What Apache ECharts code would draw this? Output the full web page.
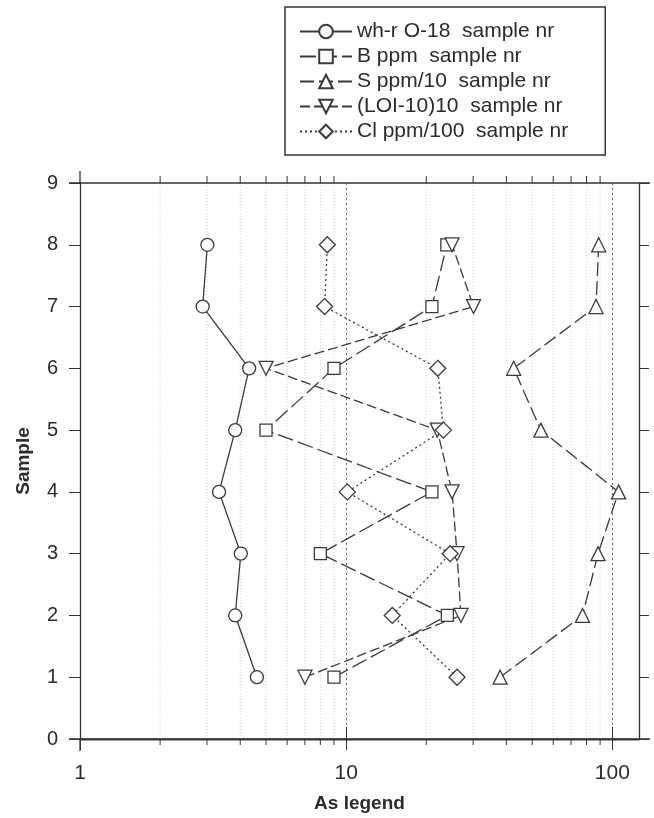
<!DOCTYPE html>
<html>
<head>
<meta charset="utf-8">
<script src="https://cdn.jsdelivr.net/npm/echarts@6/dist/echarts.min.js"></script>
<style>
  html, body { margin: 0; padding: 0; background: #fff; }
  #chart { width: 654px; height: 818px; }
</style>
</head>
<body>
<div id="chart"></div>
<script>
// sample numbers (y) and the five measured series (x, log scale)
var samples = [1, 2, 3, 4, 5, 6, 7, 8];
var whrO18 = [4.62, 3.83, 4.02, 3.33, 3.83, 4.32, 2.89, 3.01];
var bPpm = [9.0, 24.0, 8.0, 21.0, 5.0, 9.0, 21.0, 23.9];
var sPpm10 = [37.9, 77.3, 88.4, 105.6, 53.9, 42.6, 86.9, 88.9];
var loi10 = [7.0, 27.0, 26.1, 25.0, 22.0, 5.0, 30.1, 25.0];
var clPpm100 = [26.1, 14.9, 24.6, 10.1, 23.2, 22.1, 8.3, 8.5];

var seriesNames = [
  'wh-r O-18  sample nr',
  'B ppm  sample nr',
  'S ppm/10  sample nr',
  '(LOI-10)10  sample nr',
  'Cl ppm/100  sample nr'
];
var minorTicks = [2, 3, 4, 5, 6, 7, 8, 9, 20, 30, 40, 50, 60, 70, 80, 90];
var xMin = 1, xMax = 126;

var font = "'Liberation Sans', Arial, sans-serif";
var ink = '#2b2b2b';

function pairs(xs) {
  return xs.map(function (v, i) { return [v, samples[i]]; });
}

function lineSeries(name, values, symbol, size, dash, rotate) {
  return {
    name: name,
    type: 'line',
    data: pairs(values),
    symbol: symbol,
    symbolSize: size,
    symbolRotate: rotate || 0,
    showAllSymbol: true,
    z: 5,
    lineStyle: { color: '#3a3a3a', width: 1.3, type: dash },
    itemStyle: { color: '#fff', borderColor: '#3a3a3a', borderWidth: 1.3 }
  };
}

var myChart = echarts.init(document.getElementById('chart'));

var option = {
  animation: false,
  backgroundColor: '#fff',
  textStyle: { fontFamily: font, color: ink },
  grid: { left: 80, right: 15, top: 183, bottom: 79 },
  legend: {
    orient: 'vertical',
    left: 285,
    top: 7,
    padding: [14, 37, 13, 14],
    itemWidth: 52,
    itemHeight: 17,
    itemGap: 4,
    borderColor: '#333',
    borderWidth: 1.5,
    selectedMode: false,
    textStyle: { fontSize: 21, lineHeight: 21, color: ink, fontFamily: font },
    data: seriesNames
  },
  xAxis: [
    {
      type: 'log',
      logBase: 10,
      min: xMin,
      max: xMax,
      position: 'bottom',
      name: 'As legend',
      nameLocation: 'middle',
      nameGap: 55,
      nameTextStyle: { fontSize: 19, fontWeight: 'bold', color: ink, fontFamily: font },
      axisLine: { lineStyle: { color: '#333', width: 1.3 } },
      axisTick: { show: true, length: 11, lineStyle: { color: '#333' } },
      axisLabel: { fontSize: 21, color: ink, margin: 24, fontFamily: font },
      splitLine: { show: true, lineStyle: { color: '#666', type: [2, 3], width: 1 } }
    },
    {
      type: 'log',
      logBase: 10,
      min: xMin,
      max: xMax,
      position: 'top',
      axisLine: { lineStyle: { color: '#333', width: 1.3 } },
      axisTick: { show: true, length: 12, lineStyle: { color: '#333' } },
      axisLabel: { show: false },
      splitLine: { show: false }
    }
  ],
  yAxis: [
    {
      type: 'value',
      min: 0,
      max: 9,
      interval: 1,
      position: 'left',
      name: 'Sample',
      nameLocation: 'middle',
      nameGap: 47,
      nameRotate: 90,
      nameTextStyle: { fontSize: 19, fontWeight: 'bold', color: ink, fontFamily: font },
      axisLine: { show: true, onZero: false, lineStyle: { color: '#333', width: 1.3 } },
      axisTick: { show: true, length: 11, lineStyle: { color: '#333' } },
      axisLabel: { fontSize: 20, color: ink, margin: 22, fontFamily: font },
      splitLine: { show: false }
    },
    {
      type: 'value',
      min: 0,
      max: 9,
      interval: 1,
      position: 'right',
      axisLine: { show: true, onZero: false, lineStyle: { color: '#333', width: 1.3 } },
      axisTick: { show: true, length: 10, lineStyle: { color: '#333' } },
      axisLabel: { show: false },
      splitLine: { show: false }
    }
  ],
  series: [
    {
      // minor log gridlines and ticks at 2..9, 20..90
      type: 'custom',
      name: 'minor',
      silent: true,
      z: 1,
      data: minorTicks.map(function (v) { return [v]; }),
      renderItem: function (params, api) {
        var v = api.value(0);
        var lo = api.coord([v, 0]);
        var hi = api.coord([v, 9]);
        return {
          type: 'group',
          children: [
            { type: 'line', shape: { x1: lo[0], y1: lo[1], x2: hi[0], y2: hi[1] },
              style: { stroke: '#d2d2d2', lineWidth: 1, lineDash: [1, 2] } },
            { type: 'line', shape: { x1: lo[0], y1: lo[1], x2: lo[0], y2: lo[1] + 6 },
              style: { stroke: '#333', lineWidth: 1 } },
            { type: 'line', shape: { x1: hi[0], y1: hi[1], x2: hi[0], y2: hi[1] - 7 },
              style: { stroke: '#333', lineWidth: 1 } }
          ]
        };
      }
    },
    {
      // axis lines run a little past the frame, as in the original plot
      type: 'custom',
      name: 'frame',
      silent: true,
      z: 2,
      data: [[xMin, 0]],
      renderItem: function (params, api) {
        var bl = api.coord([xMin, 0]);
        var br = api.coord([xMax, 0]);
        var tl = api.coord([xMin, 9]);
        var tr = api.coord([xMax, 9]);
        var s = { stroke: '#333', lineWidth: 1.3 };
        return {
          type: 'group',
          children: [
            { type: 'line', shape: { x1: bl[0] - 11, y1: bl[1], x2: br[0] + 11, y2: br[1] }, style: s },
            { type: 'line', shape: { x1: tl[0] - 11, y1: tl[1], x2: tr[0] + 11, y2: tr[1] }, style: s },
            { type: 'line', shape: { x1: tl[0], y1: tl[1] - 12, x2: tl[0], y2: tl[1] }, style: s },
            { type: 'line', shape: { x1: bl[0], y1: bl[1], x2: bl[0], y2: bl[1] + 12 }, style: s }
          ]
        };
      }
    },
    lineSeries(seriesNames[0], whrO18, 'circle', 13, 'solid'),
    lineSeries(seriesNames[1], bPpm, 'rect', 12, [16, 5]),
    lineSeries(seriesNames[2], sPpm10, 'triangle', 14, [14, 5]),
    lineSeries(seriesNames[3], loi10, 'triangle', 14, [10, 4], 180),
    lineSeries(seriesNames[4], clPpm100, 'diamond', 16, [2, 3])
  ]
};

myChart.setOption(option);
</script>
</body>
</html>
